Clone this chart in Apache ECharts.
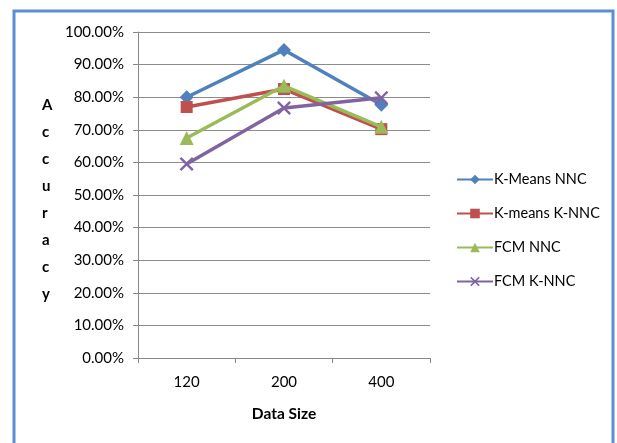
<!DOCTYPE html>
<html>
<head>
<meta charset="utf-8">
<script src="https://cdn.jsdelivr.net/npm/echarts@6/dist/echarts.min.js"></script>
<style>
  html, body { margin: 0; padding: 0; background: #fff; }
  #chart { width: 617px; height: 443px; }
</style>
</head>
<body>
<div id="chart"></div>
<script>
// Accuracy by data size for four clustering / classifier combinations
const categories = ['120', '200', '400'];
const kMeansNNC = [0.80, 0.945, 0.777];
const kMeansKNNC = [0.77, 0.825, 0.702];
const fcmNNC = [0.675, 0.835, 0.709];
const fcmKNNC = [0.595, 0.767, 0.798];
const seriesNames = ['K-Means NNC', 'K-means K-NNC', 'FCM NNC', 'FCM K-NNC'];
const yTitle = 'Accuracy';
const xTitle = 'Data Size';

const colors = ['#4F81BD', '#C0504D', '#9BBB59', '#8064A2'];
const crossSymbol = 'path://M0,1.2L1.2,0L5,3.8L8.8,0L10,1.2L6.2,5L10,8.8L8.8,10L5,6.2L1.2,10L0,8.8L3.8,5Z';
const symbols = ['diamond', 'rect', 'triangle', crossSymbol];
const symbolSizes = [14, 12, 14, 14];
const font = 'Lato, "Open Sans", sans-serif';

const chart = echarts.init(document.getElementById('chart'));

const dataSets = [kMeansNNC, kMeansKNNC, fcmNNC, fcmKNNC];
const series = dataSets.map((d, i) => ({
  name: seriesNames[i],
  type: 'line',
  data: d,
  symbol: symbols[i],
  symbolSize: symbolSizes[i],
  showAllSymbol: true,
  lineStyle: { width: 3.5, color: colors[i] },
  itemStyle: { color: colors[i] },
  z: 2 + i
}));

chart.setOption({
  animation: false,
  color: colors,
  grid: { left: 138, right: 187, top: 32, bottom: 85 },
  graphic: [
    {
      type: 'rect',
      shape: { x: 14, y: 11, width: 599, height: 450 },
      style: { fill: 'none', stroke: '#5B8ED6', lineWidth: 3 },
      z: -1
    },
    {
      type: 'text',
      left: 42,
      top: 92,
      style: {
        text: yTitle.split('').join('\n'),
        font: 'bold 15px ' + font,
        fill: '#000',
        lineHeight: 27,
        align: 'center'
      }
    }
  ],
  legend: {
    orient: 'vertical',
    left: 451,
    top: 167,
    itemWidth: 36,
    itemHeight: 12,
    itemGap: 19,
    textStyle: { fontFamily: font, fontSize: 14.5, color: '#000', padding: [0, 0, 0, -4] },
    data: seriesNames
  },
  xAxis: {
    type: 'category',
    data: categories,
    boundaryGap: true,
    name: xTitle,
    nameLocation: 'middle',
    nameGap: 48,
    nameTextStyle: { fontFamily: font, fontSize: 15.5, fontWeight: 'bold', color: '#000' },
    axisLine: { lineStyle: { color: '#888', width: 1 } },
    axisTick: { show: true, length: 5, inside: false, lineStyle: { color: '#888' } },
    axisLabel: { fontFamily: font, fontSize: 15, color: '#000', margin: 17 }
  },
  yAxis: {
    type: 'value',
    min: 0,
    max: 1,
    interval: 0.1,
    axisLine: { show: true, lineStyle: { color: '#888', width: 1 } },
    axisTick: { show: true, length: 5, lineStyle: { color: '#888' } },
    splitLine: { lineStyle: { color: '#8c8c8c', width: 1 } },
    axisLabel: {
      fontFamily: font,
      fontSize: 15,
      color: '#000',
      margin: 14,
      formatter: v => (v * 100).toFixed(2) + '%'
    }
  },
  series: series
});
</script>
</body>
</html>
